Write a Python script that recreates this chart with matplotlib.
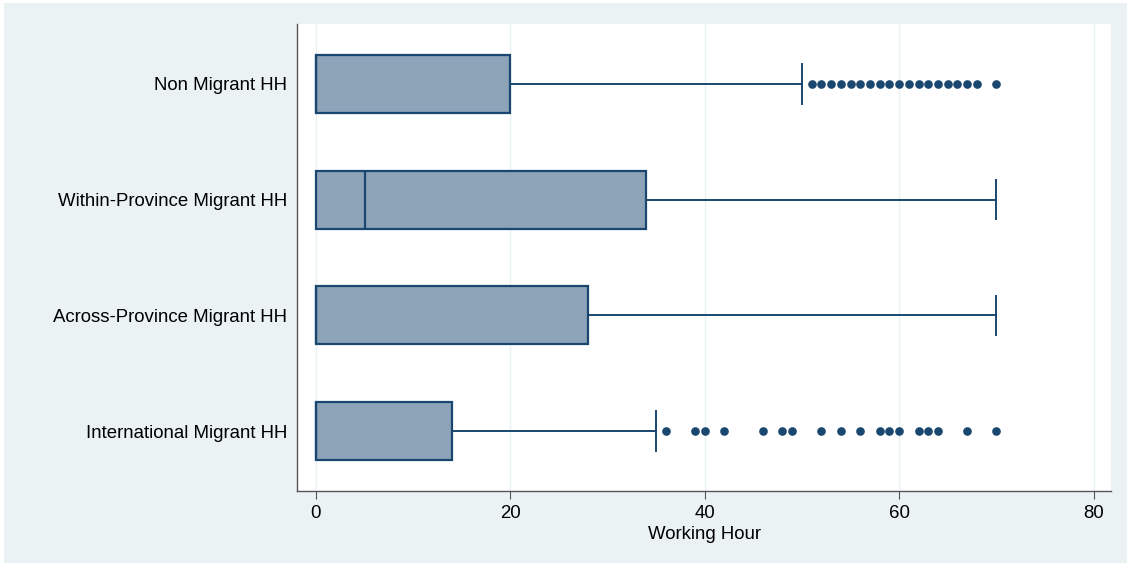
import numpy as np
import matplotlib.pyplot as plt
from matplotlib.patches import Rectangle

plt.rcParams['font.family'] = ['Liberation Sans', 'DejaVu Sans']

groups = ['Non Migrant HH', 'Within-Province Migrant HH',
          'Across-Province Migrant HH', 'International Migrant HH']
q1 = [0, 0, 0, 0]
med = [0, 5, 0, 0]
q3 = [20, 34, 28, 14]
whislo = [0, 0, 0, 0]
whishi = [50, 70, 70, 35]
outliers = [
    list(range(51, 69)) + [70],
    [],
    [],
    [36, 39, 40, 42, 46, 48, 49, 52, 54, 56, 58, 59, 60, 62, 63, 64, 67, 70],
]

stats = []
for i in range(len(groups)):
    stats.append(dict(label=groups[i], q1=q1[i], med=med[i], q3=q3[i],
                      whislo=whislo[i], whishi=whishi[i], fliers=outliers[i]))

navy = '#1A476F'
bg = '#EAF2F3'

fig = plt.figure(figsize=(11.27, 5.65), dpi=100)
fig.patches.append(Rectangle((4 / 1127, 2 / 565), 1 - 4 / 1127, 1 - 5 / 565,
                             transform=fig.transFigure, facecolor=bg,
                             edgecolor='none', zorder=-10))
ax = fig.add_axes([297 / 1127, 74 / 565, 814 / 1127, 467 / 565])

ax.bxp(stats, positions=[1, 2, 3, 4], orientation='horizontal', widths=0.5,
       patch_artist=True, capwidths=0.34,
       boxprops=dict(facecolor='#8CA3B8', edgecolor=navy, linewidth=1.6),
       medianprops=dict(color=navy, linewidth=1.6),
       whiskerprops=dict(color=navy, linewidth=1.4),
       capprops=dict(color=navy, linewidth=1.4),
       flierprops=dict(marker='o', markerfacecolor=navy, markeredgecolor=navy,
                       markersize=5.2))

ax.set_ylim(4.517, 0.483)
ax.set_xlim(-1.95, 81.8)
ax.set_xticks([0, 20, 40, 60, 80])
ax.set_xlabel('Working Hour', fontsize=13.4, labelpad=3)
ax.grid(axis='x', color=bg, linewidth=1)
ax.set_axisbelow(True)
for s in ['top', 'right']:
    ax.spines[s].set_visible(False)
for s in ['left', 'bottom']:
    ax.spines[s].set_color('#555555')
    ax.spines[s].set_linewidth(1)
ax.tick_params(axis='y', length=0, pad=7, labelsize=13.4)
ax.tick_params(axis='x', length=6, color='#555555', labelsize=13.4, pad=4)

fig.savefig('out.png', dpi=100)
